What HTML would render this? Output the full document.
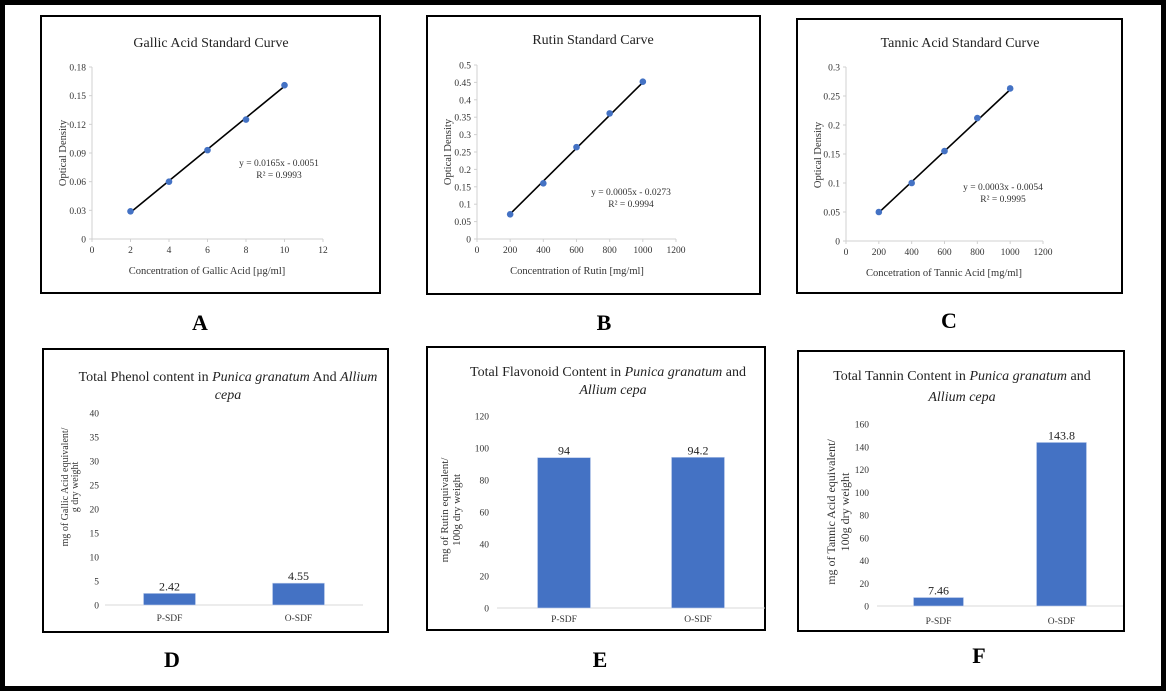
<!DOCTYPE html>
<html><head><meta charset="utf-8"><style>
html,body{margin:0;padding:0;background:#fff;}
svg{display:block;font-family:"Liberation Serif",serif;}
</style></head><body>
<svg id="root" width="1167" height="691" viewBox="0 0 1167 691">
<rect x="2.5" y="2.5" width="1161" height="686" fill="#fff" stroke="#000" stroke-width="5"/>
</svg>
<script>
// Panel A data
const aX = [2, 4, 6, 8, 10];
const aY = [0.029, 0.060, 0.093, 0.125, 0.161];
const aXTicks = [0, 2, 4, 6, 8, 10, 12];
const aYTicks = ["0", "0.03", "0.06", "0.09", "0.12", "0.15", "0.18"];
const aSlope = 0.0165, aIntercept = -0.0051;
// Panel B data
const bX = [200, 400, 600, 800, 1000];
const bY = [0.071, 0.160, 0.264, 0.361, 0.452];
const bXTicks = [0, 200, 400, 600, 800, 1000, 1200];
const bYTicks = ["0", "0.05", "0.1", "0.15", "0.2", "0.25", "0.3", "0.35", "0.4", "0.45", "0.5"];
const bLine = [0.072, 0.450];
// Panel C data
const cX = [200, 400, 600, 800, 1000];
const cY = [0.050, 0.100, 0.155, 0.212, 0.263];
const cXTicks = [0, 200, 400, 600, 800, 1000, 1200];
const cYTicks = ["0", "0.05", "0.1", "0.15", "0.2", "0.25", "0.3"];
const cLine = [0.049, 0.261];
// Bar panels
const barCats = ["P-SDF", "O-SDF"];
const dVals = [2.42, 4.55];
const dTicks = [0, 5, 10, 15, 20, 25, 30, 35, 40];
const eVals = [94, 94.2];
const eTicks = [0, 20, 40, 60, 80, 100, 120];
const fVals = [7.46, 143.8];
const fTicks = [0, 20, 40, 60, 80, 100, 120, 140, 160];

const NS = "http://www.w3.org/2000/svg";
const root = document.getElementById("root");
function mk(tag, attrs, parent, text) {
  const e = document.createElementNS(NS, tag);
  for (const k in attrs) e.setAttribute(k, attrs[k]);
  if (text !== undefined) e.textContent = text;
  (parent || root).appendChild(e);
  return e;
}

function scatterPanel(o) {
  const g = mk("g", {});
  
  
  const box = mk("rect", {x:o.box[0], y:o.box[1], width:o.box[2]-o.box[0], height:o.box[3]-o.box[1], fill:"#fff", stroke:"#000", "stroke-width":2}, g);
  
  
  const xMax = o.xTicks[o.xTicks.length-1], yMax = parseFloat(o.yTicks[o.yTicks.length-1]);
  const sx = v => o.x0 + (v / xMax) * (o.x1 - o.x0);
  const sy = v => o.y0 - (v / yMax) * (o.y0 - o.y1);
  const t = mk("text", {x:o.title[0], y:o.title[1], "text-anchor":"middle", "font-size":14, fill:"#222"}, g, o.titleText);
  
  
  const ya = mk("line", {x1:o.x0, y1:o.y0, x2:o.x0, y2:o.y1, stroke:"#d0d0d0"}, g);
  
  
  const xa = mk("line", {x1:o.x0, y1:o.y0, x2:o.x1, y2:o.y0, stroke:"#d0d0d0"}, g);
  
  
  o.yTicks.forEach(l => {
    const v = parseFloat(l);
    const tk = mk("line", {x1:o.x0-3, y1:sy(v), x2:o.x0, y2:sy(v), stroke:"#d0d0d0"}, g);
    
    
    const tl = mk("text", {x:o.x0-6, y:sy(v)+3.5, "text-anchor":"end", "font-size":9.5, fill:"#333"}, g, l);
    
    
  });
  o.xTicks.forEach(v => {
    const tk = mk("line", {x1:sx(v), y1:o.y0, x2:sx(v), y2:o.y0+3, stroke:"#d0d0d0"}, g);
    
    
    const tl = mk("text", {x:sx(v), y:o.y0+14, "text-anchor":"middle", "font-size":9.5, fill:"#333"}, g, String(v));
    
    
  });
  const xs = o.xs, ln = o.line;
  const tr = mk("line", {x1:sx(xs[0]), y1:sy(ln[0]), x2:sx(xs[xs.length-1]), y2:sy(ln[1]), stroke:"#000", "stroke-width":1.6}, g);
  
  
  xs.forEach((x, i) => {
    const c = mk("circle", {cx:sx(x), cy:sy(o.ys[i]), r:3.3, fill:"#4472C4"}, g);
    
    
  });
  const eq = mk("text", {x:o.eq[0], y:o.eq[1], "text-anchor":"middle", "font-size":9.5, fill:"#333"}, g, o.eqText);
  
  
  const r2 = mk("text", {x:o.eq[0], y:o.eq[1]+12, "text-anchor":"middle", "font-size":9.5, fill:"#333"}, g, o.r2Text);
  
  
  const xt = mk("text", {x:o.xt[0], y:o.xt[1], "text-anchor":"middle", "font-size":10.5, fill:"#333"}, g, o.xtText);
  
  
  const yt = mk("text", {x:0, y:0, "text-anchor":"middle", "font-size":10.5, fill:"#333", transform:`translate(${o.yt[0]},${o.yt[1]}) rotate(-90)`}, g, "Optical Density");
  
  
  const pl = mk("text", {x:o.lab[0], y:o.lab[1], "text-anchor":"middle", "font-size":22, "font-weight":"bold"}, root, o.labText);
  
  
}

function barPanel(o) {
  const g = mk("g", {});
  
  
  const box = mk("rect", {x:o.box[0], y:o.box[1], width:o.box[2]-o.box[0], height:o.box[3]-o.box[1], fill:"#fff", stroke:"#000", "stroke-width":2}, g);
  
  
  const yMax = o.ticks[o.ticks.length-1];
  const sy = v => o.y0 - (v / yMax) * (o.y0 - o.y1);
  const bw = o.ax1 - o.ax0, n = barCats.length;
  const cx = i => o.ax0 + bw * (i + 0.5) / n;
  o.titleLines.forEach((ln, li) => {
    const t = mk("text", {x:ln.x, y:ln.y, "text-anchor":"middle", "font-size":14, fill:"#222"}, g);
    
    
    ln.parts.forEach(p => {
      mk("tspan", p[1] ? {"font-style":"italic"} : {}, t, p[0]);
    });
  });
  o.ticks.forEach(v => {
    const tl = mk("text", {x:o.tx, y:sy(v)+3.5, "text-anchor":"end", "font-size":9.5, fill:"#333"}, g, String(v));
    
    
  });
  const xa = mk("line", {x1:o.ax0, y1:o.y0, x2:o.ax1, y2:o.y0, stroke:"#d9d9d9"}, g);
  
  
  o.vals.forEach((v, i) => {
    const b = mk("rect", {x:cx(i)-o.bar/2, y:sy(v), width:o.bar, height:o.y0-sy(v), fill:"#4472C4", stroke:"#c5d3ee", "stroke-width":0.6}, g);
    
    
    const vl = mk("text", {x:cx(i), y:sy(v)-3, "text-anchor":"middle", "font-size":12, fill:"#222"}, g, String(v));
    
    
    const cl = mk("text", {x:cx(i), y:o.xly, "text-anchor":"middle", "font-size":9.5, fill:"#333"}, g, barCats[i]);
    
    
  });
  o.ytLines.forEach((l, i) => {
    const yt = mk("text", {x:0, y:0, "text-anchor":"middle", "font-size":o.ytSize, fill:"#333", transform:`translate(${o.ytx[i]},${o.yty}) rotate(-90)`}, g, l);
    
    
  });
  const pl = mk("text", {x:o.lab[0], y:o.lab[1], "text-anchor":"middle", "font-size":22, "font-weight":"bold"}, root, o.labText);
  
  
}

scatterPanel({name:"panel-a-gallic-acid", box:[41,16,380,293], x0:92, x1:323, y0:239, y1:67,
  xTicks:aXTicks, yTicks:aYTicks, xs:aX, ys:aY, line:[aSlope*aX[0]+aIntercept, aSlope*aX[4]+aIntercept],
  title:[211,47], titleText:"Gallic Acid Standard Curve", eq:[279,166], eqText:"y = 0.0165x - 0.0051", r2Text:"R² = 0.9993",
  xt:[207,274], xtText:"Concentration of Gallic Acid [µg/ml]", yt:[66,153], lab:[200,330], labText:"A"});
scatterPanel({name:"panel-b-rutin", box:[427,16,760,294], x0:477, x1:676, y0:239, y1:65,
  xTicks:bXTicks, yTicks:bYTicks, xs:bX, ys:bY, line:bLine,
  title:[593,44], titleText:"Rutin Standard Carve", eq:[631,195], eqText:"y = 0.0005x - 0.0273", r2Text:"R² = 0.9994",
  xt:[577,274], xtText:"Concentration of Rutin [mg/ml]", yt:[451,152], lab:[604,330], labText:"B"});
scatterPanel({name:"panel-c-tannic-acid", box:[797,19,1122,293], x0:846, x1:1043, y0:241, y1:67,
  xTicks:cXTicks, yTicks:cYTicks, xs:cX, ys:cY, line:cLine,
  title:[960,47], titleText:"Tannic Acid Standard Curve", eq:[1003,190], eqText:"y = 0.0003x - 0.0054", r2Text:"R² = 0.9995",
  xt:[944,276], xtText:"Concetration of Tannic Acid [mg/ml]", yt:[821,155], lab:[949,328], labText:"C"});

barPanel({name:"panel-d-total-phenol", box:[43,349,388,632], y0:605, y1:413, tx:99, ax0:105, ax1:363, bar:52,
  vals:dVals, ticks:dTicks, xly:621,
  titleLines:[{x:228,y:381,parts:[["Total Phenol content in ",0],["Punica granatum",1],[" And ",0],["Allium",1]]},{x:228,y:399,parts:[["cepa",1]]}],
  ytLines:["mg of Gallic Acid equivalent/","g dry weight"], ytx:[68,78], yty:487, ytSize:10, lab:[172,667], labText:"D"});
barPanel({name:"panel-e-total-flavonoid", box:[427,347,765,630], y0:608, y1:416, tx:489, ax0:497, ax1:765, bar:53,
  vals:eVals, ticks:eTicks, xly:622,
  titleLines:[{x:608,y:376,parts:[["Total Flavonoid Content in ",0],["Punica granatum",1],[" and",0]]},{x:613,y:394,parts:[["Allium cepa",1]]}],
  ytLines:["mg of Rutin equivalent/","100g dry weight"], ytx:[448,460], yty:510, ytSize:11, lab:[600,667], labText:"E"});
barPanel({name:"panel-f-total-tannin", box:[798,351,1124,631], y0:606, y1:424, tx:869, ax0:877, ax1:1123, bar:50,
  vals:fVals, ticks:fTicks, xly:624,
  titleLines:[{x:962,y:380,parts:[["Total Tannin Content in ",0],["Punica granatum",1],[" and",0]]},{x:962,y:401,parts:[["Allium cepa",1]]}],
  ytLines:["mg of Tannic Acid equivalent/","100g dry weight"], ytx:[835,849], yty:512, ytSize:12, lab:[979,663], labText:"F"});
</script>
</body></html>
